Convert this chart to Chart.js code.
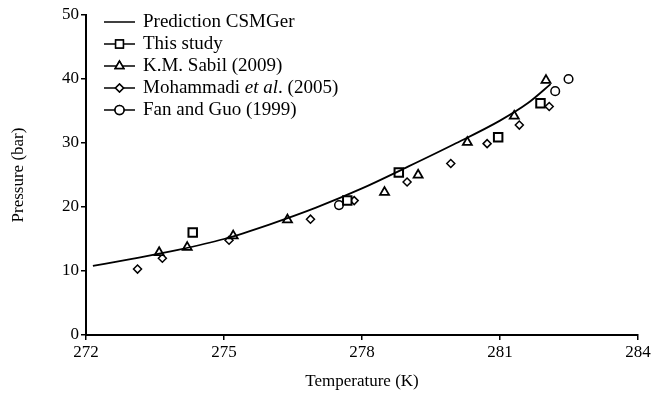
<!DOCTYPE html>
<html>
<head>
<meta charset="utf-8">
<script src="https://cdn.jsdelivr.net/npm/chart.js@4/dist/chart.umd.min.js"></script>
<style>
  html, body { margin: 0; padding: 0; background: #fff; }
  #wrap { width: 653px; height: 406px; position: relative; }
</style>
</head>
<body>
<div id="wrap"><canvas id="myChart"></canvas></div>
<script>
// prediction curve (CSMGer)
var predT = [272.15, 273, 274, 275, 276, 277, 278, 279, 280, 281, 281.6, 282.1];
var predP = [10.8, 11.9, 13.3, 15.0, 17.3, 19.9, 22.9, 26.3, 29.8, 33.5, 36.2, 39.2];

// this study
var studyT = [274.32, 277.68, 278.8, 280.96, 281.88];
var studyP = [16.0, 21.0, 25.4, 30.9, 36.2];

// K.M. Sabil (2009)
var sabilT = [273.59, 274.2, 275.2, 276.38, 278.49, 279.22, 280.29, 281.31, 282.0];
var sabilP = [12.9, 13.7, 15.5, 18.0, 22.3, 25.0, 30.1, 34.2, 39.8];

// Mohammadi et al. (2005)
var mohT = [273.12, 273.66, 275.11, 276.88, 277.83, 278.98, 279.93, 280.72, 281.42, 282.07];
var mohP = [10.3, 12.0, 14.8, 18.1, 21.0, 23.9, 26.8, 29.9, 32.8, 35.7];

// Fan and Guo (1999)
var fanT = [277.5, 282.2, 282.49];
var fanP = [20.3, 38.1, 40.0];

var xTicks = [272, 275, 278, 281, 284];

function pts(xs, ys) {
  return xs.map(function (x, i) { return { x: x, y: ys[i] }; });
}

var serif = "'Liberation Serif', 'Times New Roman', serif";

var legendItems = [
  { text: 'Prediction CSMGer', style: false },
  { text: 'This study', style: 'rect', r: 5.5 },
  { text: 'K.M. Sabil (2009)', style: 'triangle', r: 5 },
  { text: 'Mohammadi ', italic: 'et al', rest: '. (2005)', style: 'rectRot', r: 4 },
  { text: 'Fan and Guo (1999)', style: 'circle', r: 4.5 }
];

// legend drawn like the paper: short line with the marker in the middle
var paperLegend = {
  id: 'paperLegend',
  afterDraw: function (chart) {
    var c = chart.ctx;
    c.save();
    c.textBaseline = 'middle';
    c.fillStyle = '#000';
    legendItems.forEach(function (it, i) {
      var y = 22 + i * 22;
      c.strokeStyle = '#000';
      c.lineWidth = 1.5;
      c.beginPath();
      c.moveTo(104, y);
      c.lineTo(135, y);
      c.stroke();
      if (it.style) {
        c.fillStyle = '#fff';
        Chart.helpers.drawPoint(c, { pointStyle: it.style, radius: it.r, borderWidth: 1.5, rotation: 0 }, 119.5, y);
        c.fill();
        c.stroke();
      }
      c.fillStyle = '#000';
      c.font = '19px ' + serif;
      var x = 143;
      c.fillText(it.text, x, y);
      if (it.italic) {
        x += c.measureText(it.text).width;
        c.font = 'italic 19px ' + serif;
        c.fillText(it.italic, x, y);
        x += c.measureText(it.italic).width;
        c.font = '19px ' + serif;
        c.fillText(it.rest, x, y);
      }
    });
    c.restore();
  }
};

var ctx = document.getElementById('myChart').getContext('2d');
var myChart = new Chart(ctx, {
  type: 'scatter',
  data: {
    datasets: [{
      label: 'Prediction CSMGer',
      data: pts(predT, predP),
      showLine: true,
      borderColor: '#000',
      borderWidth: 1.8,
      pointRadius: 0,
      cubicInterpolationMode: 'monotone'
    }, {
      label: 'This study',
      data: pts(studyT, studyP),
      pointStyle: 'rect',
      pointRadius: 6,
      borderColor: '#000',
      backgroundColor: '#fff',
      pointBorderWidth: 2
    }, {
      label: 'K.M. Sabil (2009)',
      data: pts(sabilT, sabilP),
      pointStyle: 'triangle',
      pointRadius: 5.2,
      borderColor: '#000',
      backgroundColor: '#fff',
      pointBorderWidth: 1.8
    }, {
      label: 'Mohammadi et al. (2005)',
      data: pts(mohT, mohP),
      pointStyle: 'rectRot',
      pointRadius: 4,
      borderColor: '#000',
      backgroundColor: '#fff',
      pointBorderWidth: 1.5
    }, {
      label: 'Fan and Guo (1999)',
      data: pts(fanT, fanP),
      pointStyle: 'circle',
      pointRadius: 4.3,
      borderColor: '#000',
      backgroundColor: '#fff',
      pointBorderWidth: 1.5
    }]
  },
  options: {
    responsive: true,
    maintainAspectRatio: false,
    animation: false,
    layout: { padding: { top: 15, right: 15, left: 0, bottom: 0 } },
    plugins: {
      legend: { display: false },
      tooltip: { enabled: false }
    },
    scales: {
      x: {
        type: 'linear',
        min: 272,
        max: 284,
        afterBuildTicks: function (s) { s.ticks = xTicks.map(function (v) { return { value: v }; }); },
        afterFit: function (s) { s.height = 71; },
        grid: { display: true, drawOnChartArea: false, drawTicks: true, tickLength: 5, color: '#000', lineWidth: 1.5 },
        border: { display: true, color: '#000', width: 2 },
        ticks: { color: '#000', font: { family: serif, size: 17 }, padding: 2, maxRotation: 0 },
        title: { display: true, text: 'Temperature (K)', color: '#000', font: { family: serif, size: 17 }, padding: { top: 0, bottom: 14 } }
      },
      y: {
        min: 0,
        max: 50,
        afterFit: function (s) { s.width = 86; },
        grid: { display: true, drawOnChartArea: false, drawTicks: true, tickLength: 5, color: '#000', lineWidth: 1.5 },
        border: { display: true, color: '#000', width: 2 },
        ticks: { stepSize: 10, color: '#000', font: { family: serif, size: 17 }, padding: 2 },
        title: { display: true, text: 'Pressure (bar)', color: '#000', font: { family: serif, size: 17 }, padding: { top: 8, bottom: 0 } }
      }
    }
  },
  plugins: [paperLegend]
});
</script>
</body>
</html>
